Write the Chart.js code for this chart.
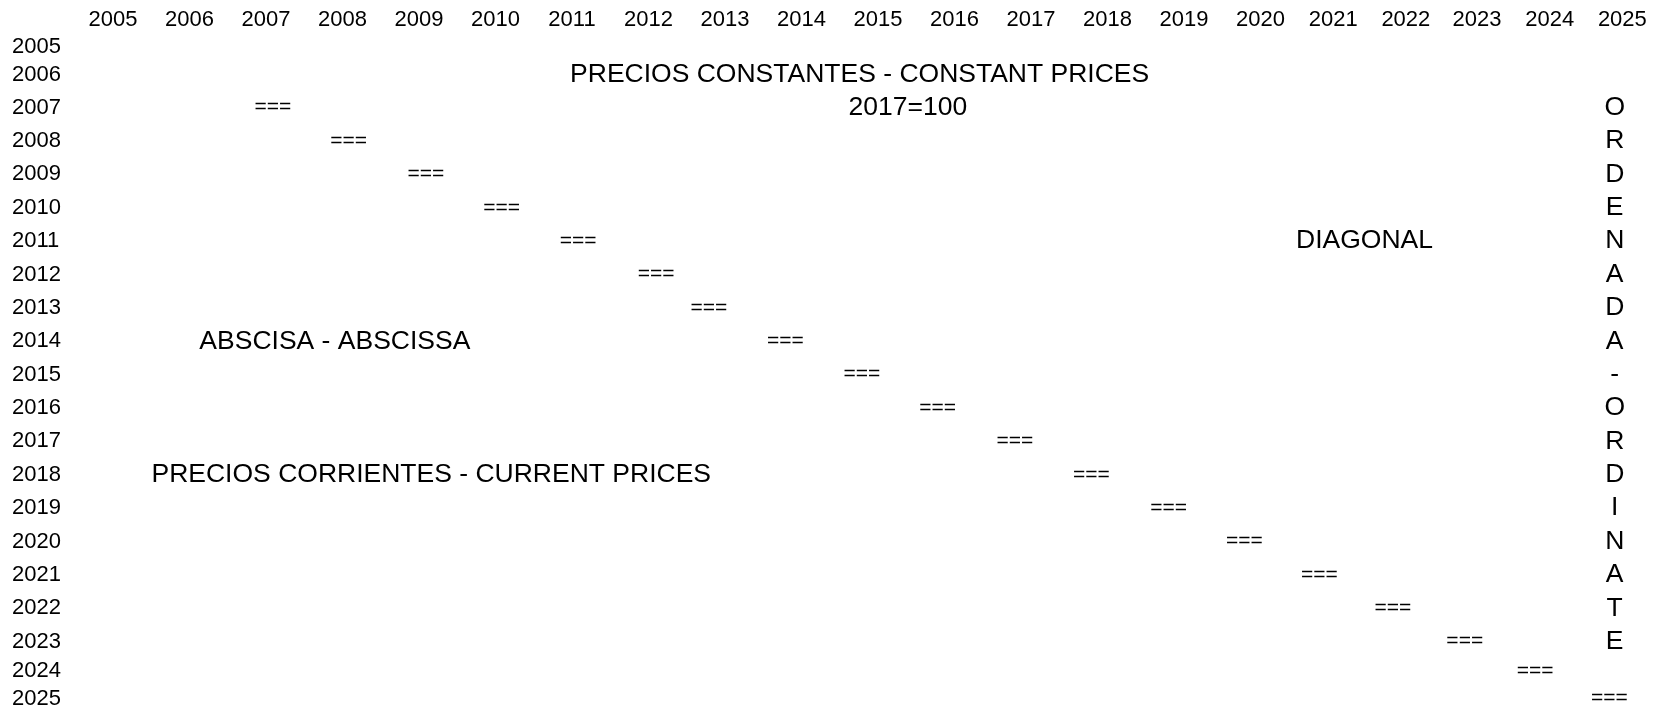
<!DOCTYPE html>
<html>
<head>
<meta charset="utf-8">
<script src="https://cdn.jsdelivr.net/npm/chart.js@4/dist/chart.umd.min.js"></script>
<style>
  html, body { margin: 0; padding: 0; background: #ffffff; overflow: hidden; }
  #wrap { width: 1658px; height: 710px; }
</style>
</head>
<body>
<div id="wrap"><canvas id="sheet" width="1658" height="710"></canvas></div>
<script>
// Years listed along the top (columns) and down the left side (rows)
const years = [2005, 2006, 2007, 2008, 2009, 2010, 2011, 2012, 2013, 2014, 2015,
               2016, 2017, 2018, 2019, 2020, 2021, 2022, 2023, 2024, 2025];

// Diagonal "===" marks: one per year, where the row year meets the column year
const diagonalYears = [2007, 2008, 2009, 2010, 2011, 2012, 2013, 2014, 2015, 2016,
                       2017, 2018, 2019, 2020, 2021, 2022, 2023, 2024, 2025];
const diagonalCol = [2007.09, 2008.08, 2009.09, 2010.08, 2011.08, 2012.10, 2012.79,
                     2013.79, 2014.79, 2015.78, 2016.79, 2017.79, 2018.80, 2019.79,
                     2020.77, 2021.73, 2022.67, 2023.59, 2024.56];
const diagonalMark = '===';

// Sheet grid: where each year's header sits on the column and row axes
// (the columns from 2021 on and the first/last rows are narrower than the rest)
const columnAt = [2005, 2006, 2007, 2008, 2009, 2010, 2011, 2012, 2013, 2014, 2015,
                  2016, 2017, 2018, 2019, 2020, 2020.95, 2021.90, 2022.83, 2023.78, 2024.73];
const rowAt = [2005.19, 2006.02, 2007, 2008, 2009, 2010, 2011, 2012, 2013, 2014, 2015,
               2016, 2017, 2018, 2019, 2020, 2021, 2022, 2023, 2023.89, 2024.71];

// Captions written into the sheet (column position, row year)
const captions = [
  { text: 'PRECIOS CONSTANTES - CONSTANT PRICES', col: 2014.76, row: 2006 },
  { text: '2017=100', col: 2015.39, row: 2007 },
  { text: 'DIAGONAL', col: 2021.36, row: 2011 },
  { text: 'ABSCISA - ABSCISSA', col: 2007.90, row: 2014 },
  { text: 'PRECIOS CORRIENTES - CURRENT PRICES', col: 2009.16, row: 2018 }
];
// Vertical caption, one letter per row starting at 2007
const ordinateWord = 'ORDENADA - ORDINATE';
const ordinateCol = 2024.63;
const ordinateFirstRow = 2007;

const FONT = '"Liberation Sans", Arial, Helvetica, sans-serif';
const rowOf = (yr) => rowAt[years.indexOf(yr)];

const sheetText = {
  id: 'sheetText',
  afterDatasetsDraw(chart) {
    const { ctx, scales: { x, y } } = chart;
    ctx.save();
    ctx.fillStyle = '#000000';
    ctx.textAlign = 'center';
    ctx.textBaseline = 'middle';

    // diagonal marks at each point position
    ctx.font = '21px ' + FONT;
    chart.getDatasetMeta(0).data.forEach((pt) => {
      ctx.fillText(diagonalMark, pt.x, pt.y);
    });

    // captions
    ctx.font = '26.5px ' + FONT;
    captions.forEach((c) => {
      ctx.fillText(c.text, x.getPixelForValue(c.col), y.getPixelForValue(rowOf(c.row)));
    });

    // vertical caption
    const letters = ordinateWord.replace(/ /g, '').split('');
    letters.forEach((ch, i) => {
      ctx.fillText(ch, x.getPixelForValue(ordinateCol), y.getPixelForValue(rowOf(ordinateFirstRow + i)));
    });
    ctx.restore();
  }
};

new Chart(document.getElementById('sheet'), {
  type: 'scatter',
  data: {
    datasets: [{
      label: 'Diagonal',
      data: diagonalYears.map((yr, i) => ({ x: diagonalCol[i], y: rowOf(yr) })),
      pointRadius: 0,
      pointHoverRadius: 0,
      showLine: false
    }]
  },
  options: {
    responsive: false,
    devicePixelRatio: 1,
    animation: false,
    events: [],
    layout: { padding: { left: 12, top: 0, right: 0, bottom: 0 } },
    plugins: { legend: { display: false }, tooltip: { enabled: false } },
    scales: {
      x: {
        type: 'linear',
        position: 'top',
        min: 2004.83,
        max: 2025.196,
        afterBuildTicks: (s) => { s.ticks = columnAt.map((v) => ({ value: v })); },
        afterFit: (s) => { s.height = 30; s.paddingLeft = 0; s.paddingRight = 0; },
        ticks: {
          callback: (v, i) => String(years[i]),
          autoSkip: false,
          maxRotation: 0,
          padding: -3,
          color: '#000000',
          font: { family: FONT, size: 22 }
        },
        grid: { display: false, drawTicks: false },
        border: { display: false }
      },
      y: {
        type: 'linear',
        position: 'left',
        reverse: true,
        min: 2004.675,
        max: 2025.049,
        afterBuildTicks: (s) => { s.ticks = rowAt.map((v) => ({ value: v })); },
        afterFit: (s) => { s.width = 88; s.paddingTop = 0; s.paddingBottom = 0; },
        ticks: {
          callback: (v, i) => String(years[i]),
          autoSkip: false,
          crossAlign: 'far',
          padding: 0,
          color: '#000000',
          font: { family: FONT, size: 22 }
        },
        grid: { display: false, drawTicks: false },
        border: { display: false }
      }
    }
  },
  plugins: [sheetText]
});
</script>
</body>
</html>
